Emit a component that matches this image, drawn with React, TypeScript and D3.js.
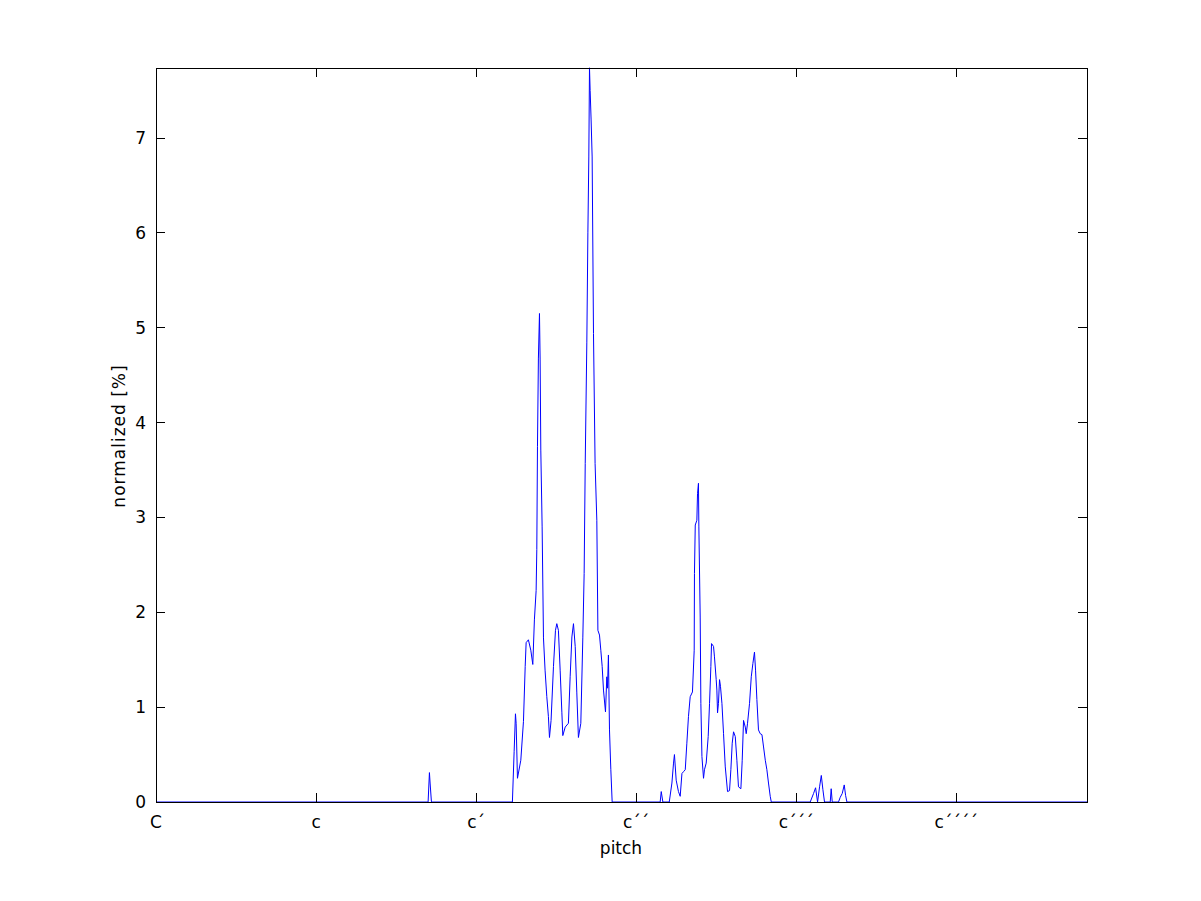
import React from "react";
import * as d3 from "d3";

// pitch in semitones above C (C2), value in percent
const pitch: number[] = [
  0, 20.4, 20.5, 20.55, 20.65,
  26.72, 26.85, 26.95, 27.0, 27.1, 27.35, 27.55, 27.68, 27.75, 27.92, 28.1, 28.25, 28.37, 28.5, 28.55,
  28.6, 28.67, 28.75, 28.8, 28.85, 28.95, 29.05, 29.17, 29.3, 29.42, 29.5, 29.62, 29.8, 29.95, 30.05,
  30.17, 30.3, 30.43, 30.5, 30.68, 30.92, 31.05, 31.18, 31.3, 31.43, 31.55, 31.67, 31.85, 32.0, 32.1,
  32.18, 32.3, 32.38, 32.45, 32.5, 32.55, 32.62, 32.7, 32.8, 32.92, 33.05, 33.13, 33.25, 33.35, 33.45,
  33.55, 33.7, 33.8, 33.85, 33.92, 34.0, 34.1, 34.2,
  37.8, 37.88, 38.0, 38.48, 38.68, 38.8, 38.87, 39.0, 39.17, 39.3, 39.43, 39.55, 39.68, 39.8, 39.92,
  40.05, 40.22, 40.35, 40.37, 40.43, 40.55, 40.6, 40.67, 40.7, 40.8, 40.85, 40.93, 41.05, 41.12, 41.25,
  41.4, 41.5, 41.6, 41.65, 41.8, 41.87, 42.0, 42.05, 42.1, 42.17, 42.25, 42.32, 42.43, 42.55, 42.68,
  42.85, 43.0, 43.1, 43.2, 43.3, 43.43, 43.55, 43.67, 43.85, 43.95, 44.05, 44.18, 44.25, 44.35, 44.5,
  44.63, 44.75, 44.87, 44.95, 45.05, 45.17, 45.3, 45.43, 45.55, 45.68, 45.8, 45.92, 46.05, 46.13,
  49.05, 49.3, 49.45, 49.6, 49.75, 49.88, 50.0, 50.12, 50.55, 50.62, 50.7,
  51.17, 51.3, 51.45, 51.6, 51.7, 51.8, 69.8,
];

const normalized: number[] = [
  0, 0, 0.31, 0.2, 0,
  0, 0.53, 0.93, 0.83, 0.25, 0.44, 0.85, 1.43, 1.68, 1.71, 1.6, 1.45, 1.92, 2.23, 2.66,
  3.75, 4.68, 5.15, 4.66, 3.71, 2.9, 1.73, 1.39, 1.11, 0.9, 0.68, 0.86, 1.43, 1.81, 1.88,
  1.81, 1.39, 0.94, 0.7, 0.79, 0.83, 1.32, 1.74, 1.88, 1.64, 1.15, 0.68, 0.83, 1.73, 2.41,
  3.57, 4.84, 6.0, 6.8, 7.74, 7.5, 7.2, 6.8, 4.94, 3.57, 2.97, 1.81, 1.76, 1.6, 1.43,
  1.18, 0.95, 1.32, 1.2, 1.55, 0.76, 0.34, 0,
  0, 0.11, 0, 0, 0.2, 0.41, 0.5, 0.23, 0.11, 0.06, 0.3, 0.32, 0.34, 0.62, 0.9,
  1.11, 1.16, 1.6, 2.41, 2.92, 2.97, 3.25, 3.36, 2.9, 1.95, 1.04, 0.48, 0.25, 0.34, 0.41,
  0.69, 1.04, 1.43, 1.67, 1.64, 1.53, 1.29, 1.18, 0.94, 1.04, 1.29, 1.22, 1.04, 0.72, 0.37,
  0.11, 0.12, 0.34, 0.62, 0.74, 0.69, 0.44, 0.16, 0.14, 0.44, 0.86, 0.79, 0.72, 0.83, 1.04,
  1.32, 1.46, 1.58, 1.39, 1.08, 0.76, 0.72, 0.71, 0.58, 0.44, 0.34, 0.2, 0.06, 0,
  0, 0.09, 0.15, 0, 0.16, 0.28, 0.13, 0, 0, 0.14, 0,
  0, 0.05, 0.09, 0.18, 0.07, 0, 0,
];

const xTickValues: number[] = [0, 12, 24, 36, 48, 60];
const xTickLabels: string[] = ["C", "c", "c\u00b4", "c\u00b4\u00b4", "c\u00b4\u00b4\u00b4", "c\u00b4\u00b4\u00b4\u00b4"];
const yTickValues: number[] = [0, 1, 2, 3, 4, 5, 6, 7];

const W = 1201;
const H = 901;
const left = 156;
const right = 1087;
const top = 68;
const bottom = 802;
const FONT = "'DejaVu Sans', sans-serif";
const FS = 17;

export default function App() {
  const x = d3.scaleLinear().domain([0, 69.8]).range([left, right]);
  const y = d3.scaleLinear().domain([0, 7.738]).range([bottom, top]);
  const pts: [number, number][] = pitch.map((p, i) => [p, normalized[i]]);
  const line = d3
    .line<[number, number]>()
    .x((d) => x(d[0]))
    .y((d) => y(d[1]));
  const tl = 9;
  return (
    <svg
      width={W}
      height={H}
      style={{ position: "absolute", left: 0, top: 0, background: "#fff" }}
    >
      <rect x={0} y={0} width={W} height={H} fill="#fff" />
      <defs>
        <clipPath id="clip">
          <rect x={left} y={top - 1} width={right - left} height={bottom - top + 2} />
        </clipPath>
      </defs>
      <g clipPath="url(#clip)">
        <path d={line(pts) || ""} fill="none" stroke="#0000ff" strokeWidth={1} />
      </g>
      <rect
        x={left}
        y={top}
        width={right - left}
        height={bottom - top}
        fill="none"
        stroke="#000"
        strokeWidth={1}
        shapeRendering="crispEdges"
      />
      {xTickValues.map((v, i) => (
        <g key={"x" + i}>
          <line x1={x(v)} x2={x(v)} y1={bottom} y2={bottom - tl} stroke="#000" shapeRendering="crispEdges" />
          <line x1={x(v)} x2={x(v)} y1={top} y2={top + tl} stroke="#000" shapeRendering="crispEdges" />
          <text
            x={x(v)}
            y={828}
            textAnchor="middle"
            fontFamily={FONT}
            fontSize={FS}
            fill="#000"
          >
            {xTickLabels[i]}
          </text>
        </g>
      ))}
      {yTickValues.map((v, i) => (
        <g key={"y" + i}>
          <line x1={left} x2={left + tl} y1={y(v)} y2={y(v)} stroke="#000" shapeRendering="crispEdges" />
          <line x1={right} x2={right - tl} y1={y(v)} y2={y(v)} stroke="#000" shapeRendering="crispEdges" />
          <text
            x={146}
            y={y(v) + 6}
            textAnchor="end"
            fontFamily={FONT}
            fontSize={FS}
            fill="#000"
          >
            {String(v)}
          </text>
        </g>
      ))}
      <text
        x={621}
        y={854}
        textAnchor="middle"
        fontFamily={FONT}
        fontSize={FS}
        fill="#000"
      >
        pitch
      </text>
      <text
        transform="translate(125,436) rotate(-90)"
        textAnchor="middle"
        fontFamily={FONT}
        fontSize={FS}
        letterSpacing={1}
        fill="#000"
      >
        normalized [%]
      </text>
    </svg>
  );
}
